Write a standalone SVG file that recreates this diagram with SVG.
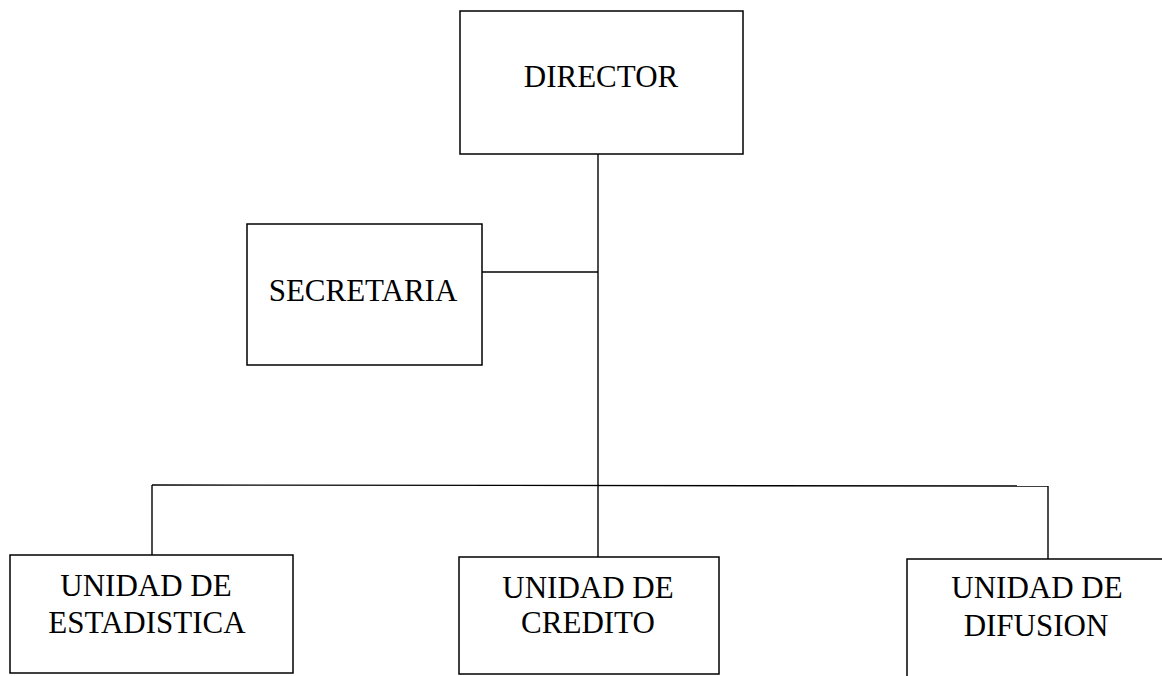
<svg xmlns="http://www.w3.org/2000/svg" width="1162" height="676" viewBox="0 0 1162 676">
  <style>
    .box { fill: #fff; stroke: #000; stroke-width: 1.5; }
    .wire { fill: none; stroke: #000; stroke-width: 1.4; }
    .label { font-family: "Liberation Serif", "Times New Roman", serif; font-size: 31px; fill: #000; text-anchor: middle; }
  </style>
  <rect width="1162" height="676" fill="#fff"/>

  <!-- reporting lines -->
  <g id="connectors">
    <line class="wire" x1="598" y1="154" x2="598" y2="557"/>
    <line class="wire" x1="482" y1="272" x2="598" y2="272"/>
    <line class="wire" x1="152" y1="485" x2="1048" y2="486"/>
    <line class="wire" x1="152" y1="485" x2="152" y2="555"/>
    <line class="wire" x1="1048" y1="486" x2="1048" y2="559"/>
  </g>

  <g id="director">
    <rect class="box" x="460" y="11" width="283" height="143"/>
    <text class="label" x="601" y="87">DIRECTOR</text>
  </g>

  <g id="secretaria">
    <rect class="box" x="247" y="224" width="235" height="141"/>
    <text class="label" x="363" y="301">SECRETARIA</text>
  </g>

  <g id="unidad-estadistica">
    <rect class="box" x="10" y="555" width="283" height="118"/>
    <text class="label" x="146" y="596">UNIDAD DE</text>
    <text class="label" x="147" y="633">ESTADISTICA</text>
  </g>

  <g id="unidad-credito">
    <rect class="box" x="459" y="557" width="260" height="117"/>
    <text class="label" x="588" y="598">UNIDAD DE</text>
    <text class="label" x="588" y="633">CREDITO</text>
  </g>

  <g id="unidad-difusion">
    <rect class="box" x="907" y="559" width="270" height="130"/>
    <text class="label" x="1037" y="598">UNIDAD DE</text>
    <text class="label" x="1036" y="636">DIFUSION</text>
  </g>
</svg>
